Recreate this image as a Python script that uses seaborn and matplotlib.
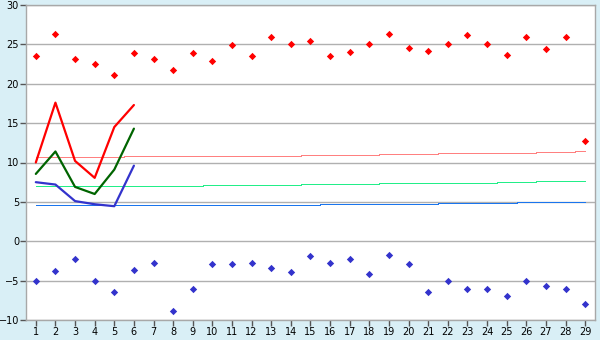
import matplotlib
matplotlib.use("Agg")
import matplotlib.pyplot as plt
import seaborn as sns
import pandas as pd
import numpy as np

days = list(range(1, 30))

tmax_points = [23.5, 26.3, 23.1, 22.5, 21.1, 23.9, 23.2, 21.8, 23.9, 22.85,
               24.9, 23.5, 26.0, 25.0, 25.4, 23.5, 24.0, 25.0, 26.3, 24.6,
               24.1, 25.0, 26.15, 25.0, 23.6, 26.0, 24.4, 26.0, 12.7]
tmin_points = [-5.0, -3.8, -2.2, -5.0, -6.4, -3.7, -2.7, -8.9, -6.0, -2.9,
               -2.9, -2.8, -3.4, -3.95, -1.9, -2.7, -2.3, -4.2, -1.7, -2.9,
               -6.5, -5.0, -6.0, -6.0, -7.0, -5.0, -5.7, -6.0, -8.0]

line_days = [1, 2, 3, 4, 5, 6]
red_line = [10.0, 17.6, 10.2, 8.05, 14.5, 17.3]
green_line = [8.55, 11.4, 6.9, 6.0, 9.1, 14.3]
blue_line = [7.5, 7.2, 5.1, 4.7, 4.45, 9.6]

norm_max = [10.65]*5 + [10.78]*9 + [10.9]*4 + [11.03]*3 + [11.15]*5 + [11.28]*2 + [11.4]
norm_mean = [7.03]*9 + [7.15]*5 + [7.28]*4 + [7.4]*6 + [7.53]*2 + [7.66]*3
norm_min = [4.62]*15 + [4.75]*6 + [4.88]*4 + [5.0]*4

sns.set_theme(style="white")
plt.rcParams['font.family'] = ['DejaVu Sans']

fig = plt.figure(figsize=(6, 3.4), dpi=100, facecolor="#d9eff6")
ax = fig.add_axes([26/600, 1-320/340, (595-26)/600, (320-5)/340])
ax.set_facecolor("white")

df_norm = pd.DataFrame({"day": days, "max": norm_max, "mean": norm_mean, "min": norm_min})
sns.lineplot(data=df_norm, x="day", y="max", ax=ax, color="#ff8080", lw=0.72,
             drawstyle="steps-mid", antialiased=False, zorder=3)
sns.lineplot(data=df_norm, x="day", y="mean", ax=ax, color="#22ee88", lw=0.72,
             drawstyle="steps-mid", antialiased=False, zorder=3)
sns.lineplot(data=df_norm, x="day", y="min", ax=ax, color="#1a75ee", lw=0.72,
             drawstyle="steps-mid", antialiased=False, zorder=3)

df_lines = pd.DataFrame({"day": line_days, "r": red_line, "g": green_line, "b": blue_line})
sns.lineplot(data=df_lines, x="day", y="r", ax=ax, color="#ff0000", lw=1.6, zorder=4)
sns.lineplot(data=df_lines, x="day", y="g", ax=ax, color="#006400", lw=1.6, zorder=4)
sns.lineplot(data=df_lines, x="day", y="b", ax=ax, color="#3333cc", lw=1.6, zorder=4)

df_pts = pd.DataFrame({"day": days, "tmax": tmax_points, "tmin": tmin_points})
sns.scatterplot(data=df_pts, x="day", y="tmax", ax=ax, color="#ff0000", marker="D",
                s=14, linewidth=0, zorder=5)
sns.scatterplot(data=df_pts, x="day", y="tmin", ax=ax, color="#3333cc", marker="D",
                s=14, linewidth=0, zorder=5)

ax.set_xlim(0.5, 29.5)
ax.set_ylim(-10, 30)
ax.set_xticks(days)
ax.set_xticklabels([str(d) for d in days])
ax.set_yticks(list(range(-10, 31, 5)))
ax.yaxis.grid(True, color="#b0b0b0", lw=1.0)
ax.xaxis.grid(False)
ax.set_axisbelow(True)
for s in ax.spines.values():
    s.set_color("#a8a8a8")
    s.set_linewidth(1.0)
ax.tick_params(axis="both", which="major", direction="out", length=4, width=1,
               color="#555555", labelsize=7, labelcolor="black", pad=1, left=True, bottom=True)
ax.set_xlabel("")
ax.set_ylabel("")

fig.savefig("out.png", dpi=100, facecolor=fig.get_facecolor())
